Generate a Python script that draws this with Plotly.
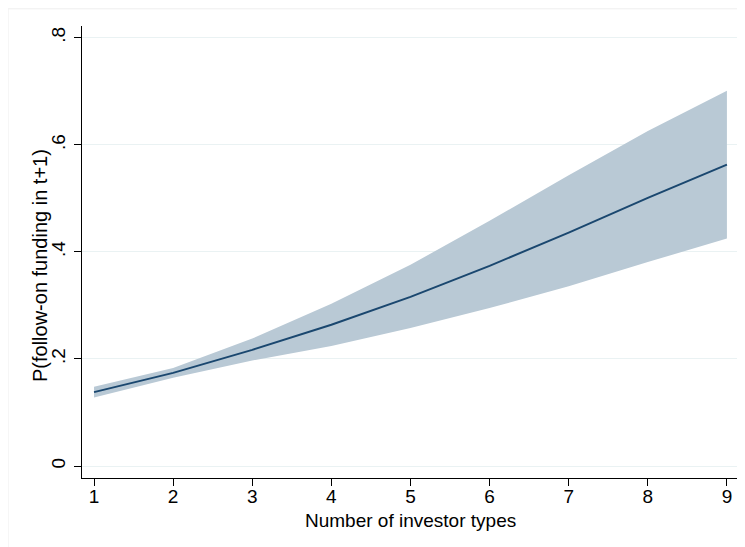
import plotly.graph_objects as go

investor_types = [1, 2, 3, 4, 5, 6, 7, 8, 9]
prob_mean = [0.138, 0.174, 0.217, 0.264, 0.316, 0.374, 0.436, 0.501, 0.563]
prob_upper = [0.148, 0.183, 0.238, 0.303, 0.376, 0.458, 0.543, 0.626, 0.701]
prob_lower = [0.128, 0.165, 0.197, 0.224, 0.258, 0.295, 0.336, 0.381, 0.425]

y_tickvals = [0, 0.2, 0.4, 0.6, 0.8]
y_ticktext = ["0", ".2", ".4", ".6", ".8"]
x_tickvals = investor_types
x_title = "Number of investor types"
y_title = "P(follow-on funding in t+1)"

FONT = "Liberation Sans, Arial, Helvetica, sans-serif"

fig = go.Figure()
fig.add_trace(go.Scatter(
    x=investor_types + investor_types[::-1],
    y=prob_upper + prob_lower[::-1],
    fill="toself", fillcolor="#b9c9d5", line=dict(width=0),
    mode="lines", hoverinfo="skip", showlegend=False,
))
fig.add_trace(go.Scatter(
    x=investor_types, y=prob_mean, mode="lines",
    line=dict(color="#1a476f", width=2), showlegend=False,
))

# page has an 8px body margin, so the figure is 737x539 placed at (8, 8)
fig.update_layout(
    width=737, height=539,
    margin=dict(l=74, r=7, t=18, b=69, autoexpand=False),
    paper_bgcolor="white", plot_bgcolor="white",
    font=dict(family=FONT, size=18, color="black"),
)
fig.update_xaxes(
    range=[0.848, 9.14], tickvals=x_tickvals,
    showline=True, linecolor="black", linewidth=1.3,
    ticks="outside", ticklen=7, tickcolor="black",
    showgrid=False, zeroline=False,
    ticklabelstandoff=-6,
    tickfont=dict(size=19),
)
fig.update_yaxes(
    range=[-0.0224, 0.822], tickvals=y_tickvals, ticktext=y_ticktext,
    tickangle=-90,
    showline=True, linecolor="black", linewidth=1.3,
    ticks="outside", ticklen=7, tickcolor="black",
    showgrid=True, gridcolor="#eaf2f3", gridwidth=1, zeroline=False,
    ticklabelstandoff=1,
    tickfont=dict(size=19),
)
fig.add_annotation(text=x_title, xref="paper", yref="paper",
                   x=0.5015, y=-0.093, xanchor="center", yanchor="middle",
                   showarrow=False, font=dict(size=19))
fig.add_annotation(text=y_title, xref="paper", yref="paper",
                   x=-0.0640, y=0.469, xanchor="center", yanchor="middle",
                   textangle=-90, showarrow=False, font=dict(size=20))
# faint outer graph-region border
fig.add_shape(type="line", xref="paper", yref="paper",
              x0=-0.1128, x1=1.05, y0=1.038, y1=1.038,
              line=dict(color="#eeeeee", width=1))
fig.add_shape(type="line", xref="paper", yref="paper",
              x0=-0.1128, x1=-0.1128, y0=1.038, y1=-0.2,
              line=dict(color="#eeeeee", width=1))

fig.write_html("out.html")
